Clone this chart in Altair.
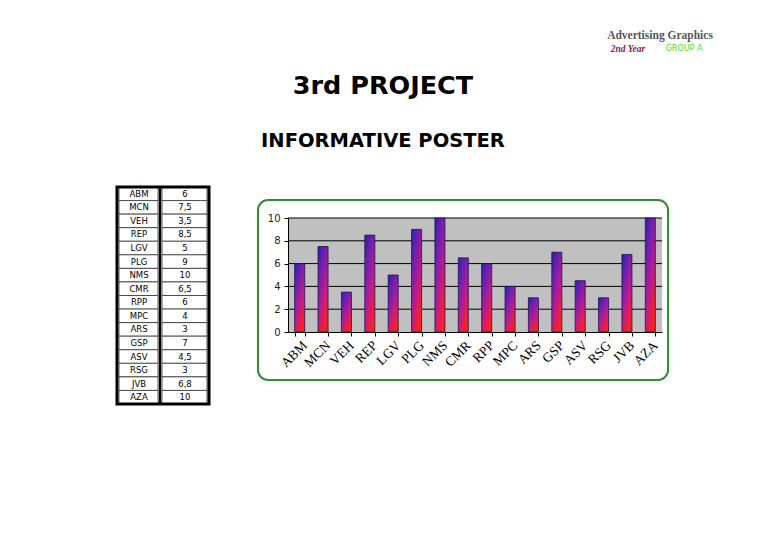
import altair as alt
import pandas as pd

# ---- data ----
codes = ["ABM", "MCN", "VEH", "REP", "LGV", "PLG", "NMS", "CMR",
         "RPP", "MPC", "ARS", "GSP", "ASV", "RSG", "JVB", "AZA"]
values = [6, 7.5, 3.5, 8.5, 5, 9, 10, 6.5, 6, 4, 3, 7, 4.5, 3, 6.8, 10]
y_ticks = [0, 2, 4, 6, 8, 10]
grid_values = [2, 4, 6, 8, 10]

df = pd.DataFrame({"code": codes, "value": values})
grid_df = pd.DataFrame({"t": grid_values})
one = pd.DataFrame({"k": [0]})

W, H = 752, 526

# ---- bar chart scales / axes ----
x_scale = alt.Scale(domain=codes, range=[280, 654], paddingInner=0.57, paddingOuter=0.285)
y_scale = alt.Scale(domain=[0, 10], range=[324, 210], nice=False, zero=True)

x_bar = alt.X("code:N", sort=codes, scale=x_scale,
              axis=alt.Axis(orient="bottom", offset=-(H - 324), title=None,
                            labelAngle=-45, labelFont="Liberation Serif", labelFontSize=13.5,
                            labelColor="#000", tickBand="extent", tickSize=4,
                            domainColor="#000", tickColor="#000", labelPadding=2,
                            zindex=1))
y_axis = alt.Axis(orient="left", offset=-280, values=y_ticks, title=None, grid=False,
                  labelFont="DejaVu Sans", labelFontSize=10, labelColor="#222",
                  tickSize=4, domainColor="#000", tickColor="#000", labelPadding=4,
                  zindex=1)

box = alt.Chart(one).mark_rect(cornerRadius=10, fill="white", stroke="#2f8f2f",
                               strokeWidth=2).encode(
    x=alt.value(250), x2=alt.value(660), y=alt.value(192), y2=alt.value(372))

plot_bg = alt.Chart(one).mark_rect(fill="#c0c0c0").encode(
    x=alt.value(280), x2=alt.value(654), y=alt.value(210), y2=alt.value(324))

grid = alt.Chart(grid_df).mark_rule(color="#000", strokeWidth=1).encode(
    y=alt.Y("t:Q", scale=y_scale, axis=y_axis),
    x=alt.value(280), x2=alt.value(654))

gradient = alt.Gradient(
    gradient="linear",
    stops=[alt.GradientStop(color="#2a1fa8", offset=0),
           alt.GradientStop(color="#6a20b0", offset=0.3),
           alt.GradientStop(color="#b81c90", offset=0.65),
           alt.GradientStop(color="#ff2020", offset=1)],
    x1=0, y1=0, x2=0.6, y2=1)

bars = alt.Chart(df).mark_bar(color=gradient, stroke="#1c1450", strokeWidth=0.8).encode(
    x=x_bar,
    y=alt.Y("value:Q", scale=y_scale, axis=y_axis))

plot_group = alt.layer(plot_bg, grid, bars)

# ---- table ----
y_tab = alt.Y("code:N", sort=codes,
              scale=alt.Scale(domain=codes, range=[179, 396], paddingInner=0, paddingOuter=0),
              axis=None)

cells1 = alt.Chart(df).mark_rect(fill="white", stroke="#333", strokeWidth=0.8).encode(
    y=y_tab, x=alt.value(111), x2=alt.value(150))
cells2 = alt.Chart(df).mark_rect(fill="white", stroke="#333", strokeWidth=0.8).encode(
    y=y_tab, x=alt.value(154), x2=alt.value(199))
outer = alt.Chart(one).mark_rect(fill=None, stroke="#000", strokeWidth=3).encode(
    x=alt.value(109), x2=alt.value(201), y=alt.value(179), y2=alt.value(396))
divider = alt.Chart(one).mark_rule(color="#000", strokeWidth=2.5).encode(
    x=alt.value(152), y=alt.value(179), y2=alt.value(396))
txt1 = alt.Chart(df).mark_text(font="DejaVu Sans", fontSize=8.5, color="#000",
                               align="center", baseline="middle").encode(
    y=y_tab, x=alt.value(131), text="code:N")
txt2 = alt.Chart(df).transform_calculate(
    label="replace(toString(datum.value), '.', ',')"
).mark_text(font="DejaVu Sans", fontSize=8.5, color="#000",
            align="center", baseline="middle").encode(
    y=y_tab, x=alt.value(177), text="label:N")

table_group = alt.layer(cells1, cells2, outer, divider, txt1, txt2)

# ---- titles ----
def label(text, x, y, size, font, color="#000", weight="normal", style="normal"):
    return alt.Chart(one).mark_text(text=text, font=font, fontSize=size, color=color,
                                    fontWeight=weight, fontStyle=style,
                                    align="center", baseline="middle").encode(
        x=alt.value(x), y=alt.value(y))

t1 = label("3rd PROJECT", 375, 78, 25.5, "DejaVu Sans", weight="bold")
t2 = label("INFORMATIVE POSTER", 375, 133, 19.5, "DejaVu Sans", weight=900)
h1 = label("Advertising Graphics", 652, 28, 11.5, "Liberation Serif", color="#555", weight="bold")
h2 = label("2nd Year", 620, 40.5, 9.5, "Liberation Serif", color="#8b1a55", weight="bold", style="italic")
h3 = label("GROUP A", 676, 40.5, 8, "DejaVu Sans", color="#44dd44")

chart = alt.layer(box, plot_group, table_group, t1, t2, h1, h2, h3).resolve_scale(
    x="independent", y="independent"
).properties(width=W, height=H, autosize="none", padding=0,
             background="white").configure_view(stroke=None)

chart.save("out.html", embed_options={"renderer": "svg", "actions": False})
